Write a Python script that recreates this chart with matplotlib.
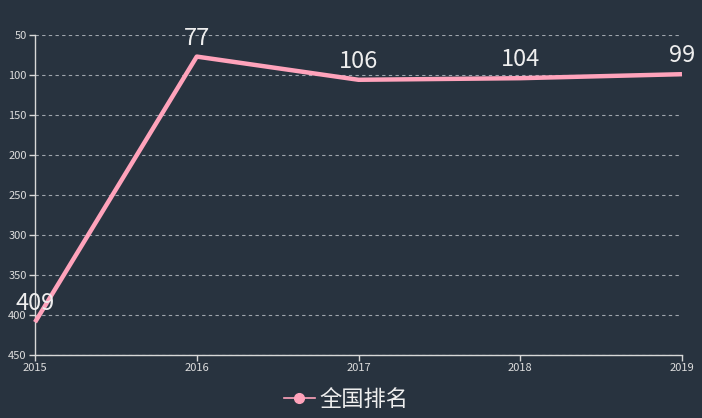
import matplotlib
matplotlib.use("Agg")
import matplotlib.pyplot as plt
from matplotlib.lines import Line2D

plt.rcParams['font.family'] = ['Noto Sans CJK SC', 'DejaVu Sans']

# data
years = [2015, 2016, 2017, 2018, 2019]
ranks = [409, 77, 106, 104, 99]
series_name = '全国排名'

bg = '#28333f'
pink = '#ffa3bb'
axis_col = '#d8d8d8'

fig = plt.figure(figsize=(7.02, 4.18), dpi=100, facecolor=bg)
ax = fig.add_axes([0.0499, 0.1507, 0.9216, 0.7656], facecolor=bg)

ax.plot(years, ranks, color=pink, lw=3.2, solid_capstyle='butt', zorder=3, clip_on=False)
for x, y in zip(years, ranks):
    ax.annotate(str(y), (x, y), xytext=(0, 5), textcoords='offset points',
                ha='center', va='bottom', color='#eeeeee', fontsize=17, zorder=4)

ax.set_xlim(2015, 2019)
ax.set_ylim(450, 50)
ax.set_xticks(years)
ax.set_xticklabels([str(y) for y in years])
ax.set_yticks(range(50, 451, 50))

ax.grid(axis='y', color='#a0a6ad', ls=(0, (3, 3)), lw=0.8)
ax.grid(axis='x', visible=False)
for s in ['top', 'right']:
    ax.spines[s].set_visible(False)
for s in ['left', 'bottom']:
    ax.spines[s].set_color(axis_col)
    ax.spines[s].set_linewidth(1)
ax.tick_params(colors=axis_col, labelsize=8, length=4, width=1, pad=2)
for lbl in ax.get_xticklabels() + ax.get_yticklabels():
    lbl.set_color('#dddddd')
    lbl.set_fontweight('medium')

handle = Line2D([0], [0], color=pink, lw=1.2, marker='o', markersize=7,
                markerfacecolor=pink, markeredgecolor=pink)
fig.legend([handle], [series_name], loc='center', bbox_to_anchor=(0.493, 0.045),
           frameon=False, fontsize=16, labelcolor='#eeeeee',
           handlelength=1.4, handletextpad=0.2)

fig.savefig('out.png', dpi=100, facecolor=bg)
